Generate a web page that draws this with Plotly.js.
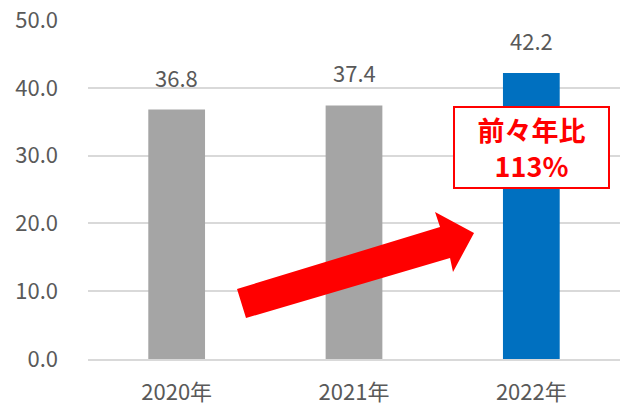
<!DOCTYPE html>
<html><head><meta charset="utf-8">
<script src="https://cdn.plot.ly/plotly-3.0.1.min.js"></script>
<style>html,body{margin:0;padding:0;background:#fff}#chart{width:627px;height:416px}</style>
</head><body><div id="chart"></div>
<script>
const categories = ['2020年', '2021年', '2022年'];
const values = [36.8, 37.4, 42.2];
const barColors = ['#A5A5A5', '#A5A5A5', '#0070C0'];
const yTicks = [0, 10, 20, 30, 40, 50];
const calloutText = '前々年比<br>113%';

const W = 627, H = 416;
const M = {l: 88, r: 7, t: 20, b: 57};
const pw = W - M.l - M.r, ph = H - M.t - M.b;
const px = x => (x - M.l) / pw;
const py = y => (H - M.b - y) / ph;

const arrowPts = [[237,289],[440,227],[435,212],[474,233],[453,272],[450,258],[246,318]];
const path = 'M ' + arrowPts.map(p => px(p[0]).toFixed(4) + ',' + py(p[1]).toFixed(4)).join(' L ') + ' Z';

const font = 'Noto Sans CJK JP, Noto Sans, sans-serif';
const grey = '#595959';

const labelAnns = categories.map((c, i) => ({
  x: c, y: values[i], xref: 'x', yref: 'y', text: values[i].toFixed(1),
  showarrow: false, yanchor: 'bottom', yshift: 15,
  font: {family: font, size: 22, color: grey}
}));

const trace = {
  type: 'bar', x: categories, y: values,
  marker: {color: barColors}, width: 0.32, hoverinfo: 'none'
};

const layout = {
  width: W, height: H,
  margin: M,
  paper_bgcolor: '#fff', plot_bgcolor: '#fff',
  showlegend: false,
  xaxis: {
    type: 'category', showgrid: false, zeroline: false,
    showline: true, linecolor: '#D9D9D9', linewidth: 2,
    ticks: '', tickfont: {family: font, size: 22, color: grey},
    ticklabelstandoff: 13
  },
  yaxis: {
    range: [0, 50], tickvals: yTicks, tickformat: '.1f',
    showgrid: true, gridcolor: '#D9D9D9', gridwidth: 2,
    zeroline: false, showline: false, ticks: '',
    tickfont: {family: font, size: 22, color: grey},
    ticklabelstandoff: 29
  },
  shapes: [{
    type: 'path', xref: 'paper', yref: 'paper', path: path,
    fillcolor: '#FF0000', line: {width: 0}, layer: 'above'
  }],
  annotations: labelAnns.concat([{
    xref: 'paper', yref: 'paper', x: px(531), y: py(147.5),
    xanchor: 'center', yanchor: 'middle', showarrow: false,
    text: '<b>' + calloutText + '</b>', align: 'center',
    width: 153, height: 79,
    bgcolor: '#FFFFFF', bordercolor: '#FF0000', borderwidth: 2, borderpad: 0,
    font: {family: font, size: 27, color: '#FF0000'}
  }])
};

Plotly.newPlot('chart', [trace], layout, {displayModeBar: false, staticPlot: true});
</script></body></html>
